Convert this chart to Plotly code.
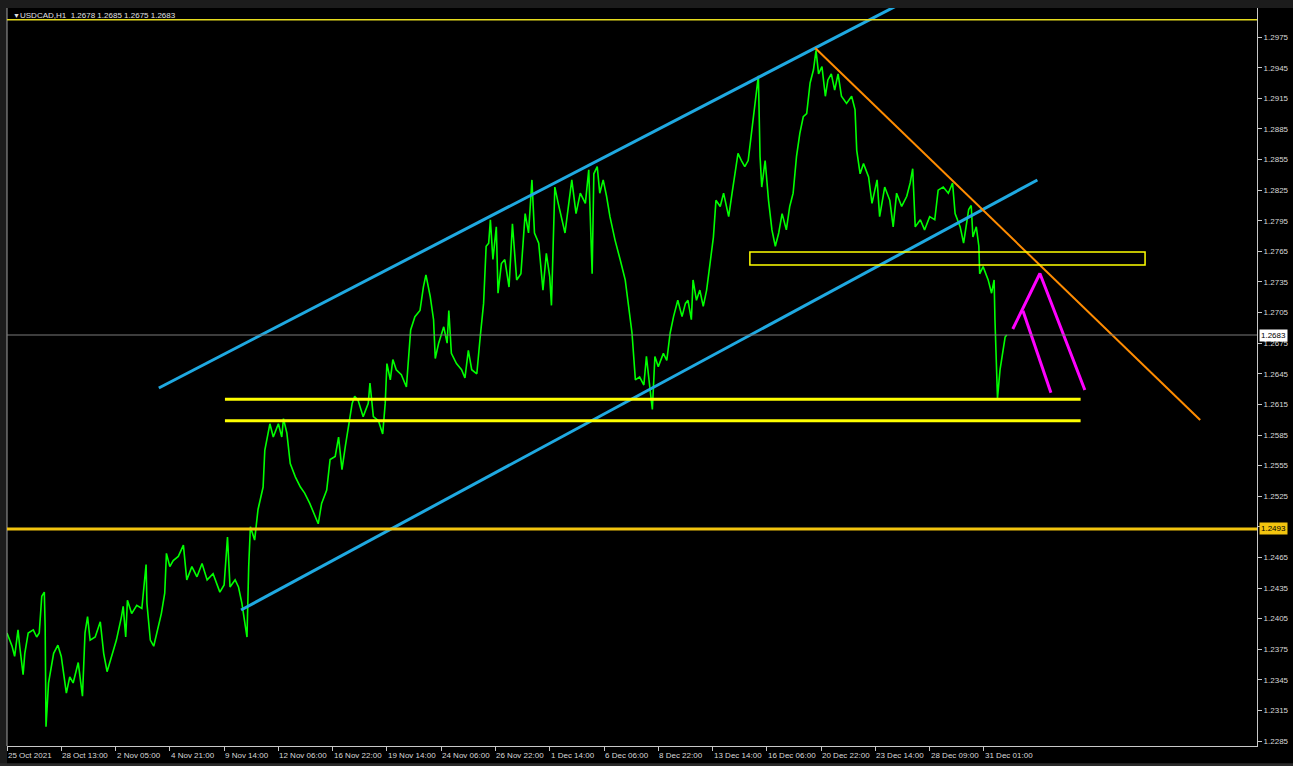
import plotly.graph_objects as go

# ---- data (H1 bar index, price) ----
bars = [0,6,9,13,15,19,21,25,31,35,38,41,44,45,46,49,55,60,64,70,74,78,84,89,92,95,98,104,110,114,
        118,124,129,135,137,140,142,147,153,159,164,165,169,173,178,182,186,188,192,196,202,208,212,218,224,230,236,243,251,256,
        260,263,269,273,277,283,285,287,292,296,
        302,304,310,314,320,324,326,330,334,340,346,351,357,363,367,371,377,381,387,391,395,399,403,407,410,414,420,426,428,432,
        438,443,446,448,452,455,459,465,471,474,476,481,487,491,494,499,503,505,509,515,519,521,524,530,536,540,544,548,554,558,
        562,565,568,570,573,577,579,583,587,592,
        596,601,606,611,615,619,622,627,632,636,640,642,646,650,654,658,662,666,671,676,682,686,690,692,696,699,703,707,711,717,
        723,729,733,737,741,746,751,754,758,761,764,768,774,778,782,786,791,796,800,803,807,809,813,817,821,825,829,833,836,841,
        845,851,855,858,862,866,870,874,878,882,886,
        888,890,894,898,902,906,910,914,919,923,927,931,935,939,943,947,951,954,957,961,965,968,972,976,980,984,990,996,1000,1002,
        1006,1010,1016,1020,1026,1029,1035,1041,1045,1049,1055,1061,1065,1068,1071,1077,1082,1088,1094,1098,1104,1110,1115,1118,1124,1128,1134,1137,1139,1143,
        1146,1147,1151,1157,1161,1164,1165,1166,1168,1171,1173,1175,1177,1179]

prices = [1.2391,1.2378,1.2368,1.2394,1.2378,1.2350,1.2371,1.2391,1.2394,1.2387,1.2391,1.2427,1.2431,1.2397,1.2299,1.2342,1.2371,1.2379,1.2368,1.2332,
          1.2348,1.2342,1.2362,1.2329,1.2391,1.2407,1.2384,1.2387,1.2402,1.2371,1.2353,1.2371,1.2384,1.2407,1.2417,1.2387,1.2423,1.2410,1.2418,1.2415,
          1.2458,1.2420,1.2384,1.2378,1.2397,1.2410,1.2430,1.2469,1.2456,1.2462,1.2466,1.2477,1.2443,1.2456,1.2446,1.2459,1.2443,1.2449,1.2431,1.2438,
          1.2485,1.2436,1.2443,1.2436,1.2420,1.2387,1.2456,1.2495,1.2482,1.2512,
          1.2534,1.2570,1.2596,1.2583,1.2596,1.2583,1.2601,1.2587,1.2557,1.2544,1.2534,1.2528,1.2518,1.2505,1.2498,1.2518,1.2531,1.2561,1.2564,1.2583,
          1.2551,1.2574,1.2596,1.2616,1.2623,1.2619,1.2603,1.2616,1.2636,1.2603,1.2599,1.2586,1.2616,1.2655,1.2639,1.2659,1.2649,1.2644,1.2632,1.2662,
          1.2688,1.2701,1.2707,1.2730,1.2742,1.2721,1.2698,1.2660,1.2675,1.2691,1.2675,1.2707,1.2665,1.2655,1.2649,1.2641,1.2668,1.2649,1.2645,1.2681,
          1.2714,1.2770,1.2773,1.2796,1.2757,1.2789,1.2724,1.2753,1.2757,1.2730,
          1.2792,1.2737,1.2743,1.2802,1.2783,1.2835,1.2783,1.2773,1.2727,1.2763,1.2740,1.2712,1.2828,1.2812,1.2799,1.2783,1.2809,1.2835,1.2802,1.2822,
          1.2812,1.2845,1.2743,1.2841,1.2848,1.2822,1.2835,1.2819,1.2799,1.2776,1.2757,1.2737,1.2711,1.2685,1.2639,1.2642,1.2634,1.2662,1.2632,1.2610,
          1.2662,1.2652,1.2665,1.2658,1.2685,1.2701,1.2717,1.2701,1.2714,1.2717,1.2698,1.2737,1.2717,1.2727,1.2711,1.2727,1.2753,1.2779,1.2815,1.2809,
          1.2822,1.2799,1.2822,1.2841,1.2861,1.2854,1.2848,1.2854,1.2881,1.2910,1.2937,
          1.2858,1.2828,1.2854,1.2815,1.2786,1.2770,1.2783,1.2802,1.2786,1.2809,1.2822,1.2858,1.2881,1.2897,1.2900,1.2930,1.2943,1.2962,1.2939,1.2946,
          1.2917,1.2933,1.2939,1.2923,1.2939,1.2917,1.2910,1.2917,1.2904,1.2864,1.2841,1.2851,1.2838,1.2812,1.2835,1.2799,1.2828,1.2815,1.2789,1.2822,
          1.2809,1.2819,1.2832,1.2846,1.2789,1.2796,1.2786,1.2799,1.2796,1.2825,1.2828,1.2822,1.2832,1.2802,1.2789,1.2773,1.2806,1.2810,1.2779,1.2789,
          1.2770,1.2743,1.2750,1.2737,1.2724,1.2737,1.2698,1.2672,1.2621,1.2649,1.2660,1.2672,1.2681,1.2683]

tick_bars = [0, 64, 128, 192, 256, 320, 384, 448, 512, 576, 640, 704, 768, 832, 896, 960, 1024, 1088, 1152]
tick_labels = ["25 Oct 2021", "28 Oct 13:00", "2 Nov 05:00", "4 Nov 21:00", "9 Nov 14:00", "12 Nov 06:00",
               "16 Nov 22:00", "19 Nov 14:00", "24 Nov 06:00", "26 Nov 22:00", "1 Dec 14:00", "6 Dec 06:00",
               "8 Dec 22:00", "13 Dec 14:00", "16 Dec 06:00", "20 Dec 22:00", "23 Dec 14:00", "28 Dec 09:00",
               "31 Dec 01:00"]
price_ticks = [round(1.2285 + 0.003 * i, 4) for i in range(24)]

# drawn objects (bar index, price)
upper_channel_x = [179, 1050]
upper_channel_y = [1.26311, 1.30061]
lower_channel_x = [276, 1215]
lower_channel_y = [1.24135, 1.28349]
orange_x = [953, 1407]
orange_y = [1.29643, 1.25997]
magenta_a_x = [1186, 1218, 1271]
magenta_a_y = [1.26889, 1.27433, 1.26291]
magenta_b_x = [1198, 1231]
magenta_b_y = [1.27068, 1.26265]
support_levels = [1.2620, 1.2599]
support_x = [257, 1266]
zone_x = [876, 1342]
zone_y = [1.27516, 1.27643]
top_level = 1.2992
key_level = 1.2493
last_price = 1.2683

FONT = "Liberation Sans"
TXT = "#d8d8d8"

fig = go.Figure()
fig.add_trace(go.Scatter(x=bars, y=prices, mode="lines",
                         line=dict(color="#00ff00", width=1.6), hoverinfo="skip"))
fig.add_trace(go.Scatter(x=upper_channel_x, y=upper_channel_y, mode="lines",
                         line=dict(color="#1fa9e1", width=3), hoverinfo="skip"))
fig.add_trace(go.Scatter(x=lower_channel_x, y=lower_channel_y, mode="lines",
                         line=dict(color="#1fa9e1", width=3), hoverinfo="skip"))
fig.add_trace(go.Scatter(x=orange_x, y=orange_y, mode="lines",
                         line=dict(color="#ff8c00", width=2), hoverinfo="skip"))
fig.add_trace(go.Scatter(x=magenta_a_x, y=magenta_a_y, mode="lines",
                         line=dict(color="#ff00ff", width=3), hoverinfo="skip"))
fig.add_trace(go.Scatter(x=magenta_b_x, y=magenta_b_y, mode="lines",
                         line=dict(color="#ff00ff", width=3), hoverinfo="skip"))

shapes = []
# outer dark bands
shapes.append(dict(type="rect", xref="paper", yref="paper", x0=-0.01, x1=1.04, y0=1.0, y1=1.02,
                   fillcolor="#1c1c1c", line=dict(width=0), layer="below"))
shapes.append(dict(type="rect", xref="paper", yref="paper", x0=-0.01, x1=0, y0=-0.03, y1=1.02,
                   fillcolor="#1c1c1c", line=dict(width=0), layer="below"))
shapes.append(dict(type="rect", xref="paper", yref="paper", x0=-0.01, x1=1.04, y0=-0.03, y1=-0.0235,
                   fillcolor="#2a2a2a", line=dict(width=0), layer="below"))
shapes.append(dict(type="line", xref="paper", yref="paper", x0=0, x1=0, y0=0, y1=1.0,
                   line=dict(color="#a0a0a0", width=1)))
# levels
shapes.append(dict(type="line", xref="paper", yref="y", x0=0, x1=1, y0=top_level, y1=top_level,
                   line=dict(color="#e6dc1e", width=1.5)))
shapes.append(dict(type="line", xref="paper", yref="y", x0=0, x1=1, y0=last_price, y1=last_price,
                   line=dict(color="#7a7a7a", width=1)))
shapes.append(dict(type="line", xref="paper", yref="y", x0=0, x1=1, y0=key_level, y1=key_level,
                   line=dict(color="#f2c40f", width=3)))
for lv in support_levels:
    shapes.append(dict(type="line", xref="x", yref="y", x0=support_x[0], x1=support_x[1], y0=lv, y1=lv,
                       line=dict(color="#ffff00", width=3)))
shapes.append(dict(type="rect", xref="x", yref="y", x0=zone_x[0], x1=zone_x[1], y0=zone_y[0], y1=zone_y[1],
                   line=dict(color="#ffff00", width=1.5), fillcolor="rgba(0,0,0,0)"))

annotations = []
for tb, tl in zip(tick_bars, tick_labels):
    annotations.append(dict(x=tb, xref="x", y=-0.004, yref="paper", text=tl, showarrow=False,
                            xanchor="left", yanchor="top", xshift=-1,
                            font=dict(family=FONT, size=8, color=TXT)))
annotations.append(dict(x=0.0028, xref="paper", y=0.9895, yref="paper", text="▼", showarrow=False,
                        xanchor="left", yanchor="middle", font=dict(family=FONT, size=7, color="#e0e0e0")))
annotations.append(dict(x=0.0088, xref="paper", y=0.9895, yref="paper",
                        text="USDCAD,H1\u00a0\u00a01.2678 1.2685 1.2675 1.2683", showarrow=False,
                        xanchor="left", yanchor="middle", font=dict(family=FONT, size=8, color="#e0e0e0")))
annotations.append(dict(x=1.0012, xref="paper", y=last_price, yref="y", text="1.2683", showarrow=False,
                        xanchor="left", yanchor="middle", bgcolor="#ffffff", borderpad=1,
                        font=dict(family=FONT, size=8, color="#000000")))
annotations.append(dict(x=1.0012, xref="paper", y=key_level, yref="y", text="1.2493", showarrow=False,
                        xanchor="left", yanchor="middle", bgcolor="#f2c40f", borderpad=1,
                        font=dict(family=FONT, size=8, color="#000000")))

# 1.2495 tick label is hidden behind the 1.2493 price box in the reference
price_ticktext = ["" if abs(v - 1.2495) < 1e-6 else f"{v:.4f}" for v in price_ticks]

fig.update_layout(
    width=1293, height=766,
    margin=dict(l=7, r=36, t=8, b=20),
    paper_bgcolor="#000000", plot_bgcolor="#000000",
    showlegend=False,
    shapes=shapes, annotations=annotations,
    xaxis=dict(range=[0, 1474], tickvals=tick_bars, ticktext=[""] * len(tick_bars),
               showgrid=False, zeroline=False, showline=True, linecolor="#c8c8c8", linewidth=1,
               ticks="outside", ticklen=4, tickcolor="#c8c8c8", automargin=False, fixedrange=True),
    yaxis=dict(range=[1.22802, 1.30035], side="right", tickvals=price_ticks,
               ticktext=price_ticktext,
               showgrid=False, zeroline=False, showline=True, linecolor="#c8c8c8", linewidth=1,
               ticks="outside", ticklen=4, tickcolor="#c8c8c8", automargin=False,
               tickfont=dict(family=FONT, size=8, color=TXT), fixedrange=True),
)

fig.write_html("out.html", config={"displayModeBar": False})

# remove the browser's default page margin so the figure sits at the window origin
with open("out.html", "r", encoding="utf-8") as f:
    html = f.read()
html = html.replace("<body>", '<body style="margin:0;padding:0;background:#000000;overflow:hidden">', 1)
with open("out.html", "w", encoding="utf-8") as f:
    f.write(html)
